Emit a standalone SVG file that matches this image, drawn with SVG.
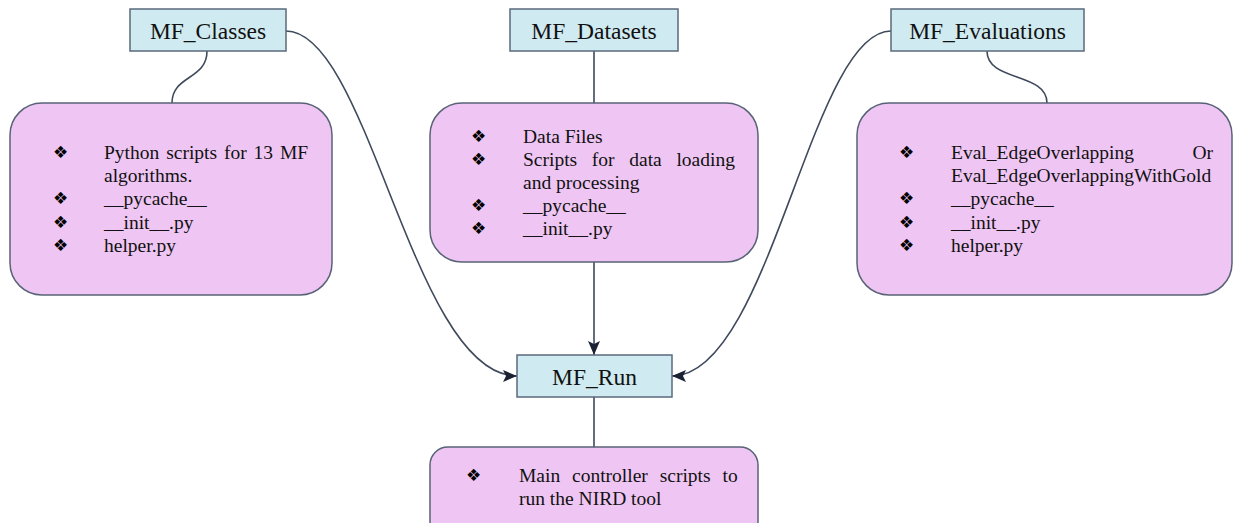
<svg xmlns="http://www.w3.org/2000/svg" width="1233" height="523" viewBox="0 0 1233 523">
<style>
.hdr{fill:#cfeaf0;stroke:#5b6a7c;stroke-width:1.5}
.body{fill:#efc6f3;stroke:#586377;stroke-width:1.5}
.ht{font-family:"Liberation Serif",serif;font-size:23.5px;fill:#111;text-anchor:middle}
.t{font-family:"Liberation Serif",serif;font-size:19.5px;fill:#111}
.b{font-family:"DejaVu Sans",sans-serif;font-size:17px;fill:#000}
.c{fill:none;stroke:#3f4a5c;stroke-width:1.6}
</style>
<defs>
<marker id="ah" viewBox="0 0 14 12" refX="14" refY="6" markerWidth="14" markerHeight="12" markerUnits="userSpaceOnUse" orient="auto">
<path d="M0,0 L14,6 L0,12 L3,6 Z" fill="#1a2233"/>
</marker>
</defs>
<rect width="1233" height="523" fill="#fff"/>
<g id="connectors">
<path class="c" d="M207,51 C207,80 172,75 172,103"/>
<path class="c" d="M987,51 C987,82 1047,72 1047,103"/>
<path class="c" d="M594,51 L594,103"/>
<path class="c" d="M594,262 L594,355" marker-end="url(#ah)"/>
<path class="c" d="M594,397 L594,447"/>
<path class="c" d="M286,31 C369,31 413,376 517,376" marker-end="url(#ah)"/>
<path class="c" d="M891,31 C811,31 770,376 672,376" marker-end="url(#ah)"/>
</g>
<g id="mf_classes">
<rect class="hdr" x="130" y="9" width="156" height="42"/>
<text class="ht" x="208" y="38.5">MF_Classes</text>
</g>
<g id="mf_datasets">
<rect class="hdr" x="510" y="9" width="168" height="42"/>
<text class="ht" x="594" y="38.5">MF_Datasets</text>
</g>
<g id="mf_evaluations">
<rect class="hdr" x="891" y="9" width="193" height="42"/>
<text class="ht" x="987.5" y="38.5">MF_Evaluations</text>
</g>
<g id="mf_run">
<rect class="hdr" x="517" y="355" width="155" height="42"/>
<text class="ht" x="594.5" y="384.5">MF_Run</text>
</g>
<g id="classes_body">
<rect class="body" x="10" y="103" width="322" height="192" rx="32"/>
<text class="b" x="53" y="158">❖</text>
<text class="t" x="104" y="159" word-spacing="2">Python scripts for 13 MF</text>
<text class="t" x="104" y="182">algorithms.</text>
<text class="b" x="53" y="204">❖</text>
<text class="t" x="104" y="205">__pycache__</text>
<text class="b" x="53" y="228">❖</text>
<text class="t" x="104" y="229">__init__.py</text>
<text class="b" x="53" y="251">❖</text>
<text class="t" x="104" y="252">helper.py</text>
</g>
<g id="datasets_body">
<rect class="body" x="430" y="103" width="328" height="159" rx="32"/>
<text class="b" x="471" y="142">❖</text>
<text class="t" x="523" y="143">Data Files</text>
<text class="b" x="471" y="165">❖</text>
<text class="t" x="523" y="166" word-spacing="9.8">Scripts for data loading</text>
<text class="t" x="523" y="189">and processing</text>
<text class="b" x="471" y="211">❖</text>
<text class="t" x="523" y="212">__pycache__</text>
<text class="b" x="471" y="234">❖</text>
<text class="t" x="523" y="235">__init__.py</text>
</g>
<g id="evaluations_body">
<rect class="body" x="857" y="103" width="375" height="192" rx="32"/>
<text class="b" x="899" y="158">❖</text>
<text class="t" x="951" y="159">Eval_EdgeOverlapping</text>
<text class="t" x="1213" y="159" text-anchor="end">Or</text>
<text class="t" x="951" y="182">Eval_EdgeOverlappingWithGold</text>
<text class="b" x="899" y="204">❖</text>
<text class="t" x="951" y="205">__pycache__</text>
<text class="b" x="899" y="228">❖</text>
<text class="t" x="951" y="229">__init__.py</text>
<text class="b" x="899" y="251">❖</text>
<text class="t" x="951" y="252">helper.py</text>
</g>
<g id="run_body">
<rect class="body" x="430" y="447" width="328" height="100" rx="18"/>
<text class="b" x="466" y="481">❖</text>
<text class="t" x="519" y="482" word-spacing="7">Main controller scripts to</text>
<text class="t" x="519" y="505">run the NIRD tool</text>
</g>
</svg>
